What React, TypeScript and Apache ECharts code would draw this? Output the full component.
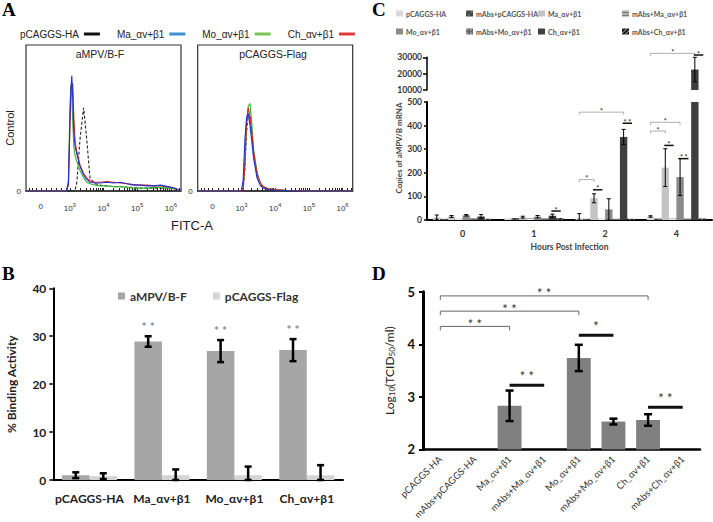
import React, { useEffect, useRef } from 'react';
import * as echarts from 'echarts';

const SANS = 'Liberation Sans';
const CAL = 'Lato';

// ---------------- Panel A : flow cytometry histograms ----------------
const A_NAMES = ['pCAGGS-HA', 'Ma_αv+β1', 'Mo_αv+β1', 'Ch_αv+β1'];
const A_LINE_COLORS = ['#2b2020', '#2430d0', '#35b835', '#d82828'];
const A_LEGEND_COLORS = ['#111111', '#3d8fd6', '#7cc35a', '#e03a3a'];
const A_TICK_VALUES = [2.14, 3, 4, 5, 6];
const A_TICK_LABELS = ['0', '10{s|3}', '10{s|4}', '10{s|5}', '10{s|6}'];

const AL_X = [1.7, 2.9, 2.96, 3.0, 3.03, 3.06, 3.09, 3.12, 3.16, 3.21, 3.3, 3.41, 3.5, 3.6, 3.75, 3.9, 4.1, 4.3, 4.5, 4.7, 4.9, 5.1, 5.3, 5.5, 5.7, 5.9, 6.1, 6.3];
const AL_HA = [0, 0, 0, 0, 0, 0, 0, 0, 1, 6, 35, 57, 36, 9, 5, 4, 3.5, 3, 3, 2.5, 2.5, 2, 2, 2, 2, 2, 1.5, 0];
const AL_MA = [0, 0, 5, 45, 70, 79, 62, 40, 30, 25, 17, 11, 8, 6, 5.5, 5.5, 6, 5.5, 6, 5, 4, 4, 3.5, 3.5, 4, 3, 2, 0];
const AL_MO = [0, 0, 8, 55, 72, 65, 45, 30, 24, 20, 14, 9, 6, 5, 4, 3.5, 3.5, 3, 3, 2.5, 2, 2, 2, 2.5, 2.5, 2, 1.5, 0];
const AL_CH = [0, 0, 4, 40, 65, 74, 73, 50, 33, 27, 18, 12, 9, 7, 6, 6, 6.5, 6, 5.5, 5, 4.5, 4, 4, 3.5, 3.5, 3, 2, 0];

const AR_X = [1.7, 3.0, 3.05, 3.1, 3.15, 3.2, 3.25, 3.3, 3.36, 3.46, 3.55, 3.64, 3.8, 4.0, 4.3, 4.6, 5.0, 6.3];
const AR_HA = [0, 0, 1, 15, 40, 53, 50, 40, 26, 12, 5, 2.5, 1, 0.5, 0.2, 0, 0, 0];
const AR_MA = [0, 0, 8, 35, 50, 53, 45, 35, 22, 9, 4, 2, 1, 0.5, 0.3, 0, 0, 0];
const AR_MO = [0, 0, 3, 20, 45, 58, 60, 48, 28, 13, 6, 3, 1.5, 1, 0.5, 0.3, 0, 0];
const AR_CH = [0, 0, 2, 18, 48, 57, 52, 42, 27, 12, 6, 3, 1.5, 1, 0.5, 0.3, 0, 0];

// ---------------- Panel B : binding activity ----------------
const B_CATS = ['pCAGGS-HA', 'Ma_αv+β1', 'Mo_αv+β1', 'Ch_αv+β1'];
const B_SERIES = ['aMPV/B-F', 'pCAGGS-Flag'];
const B_F = [1.0, 28.9, 26.9, 27.1];
const B_F_ERR = [0.6, 1.1, 2.3, 2.3];
const B_FLAG = [0.8, 1.0, 1.0, 1.0];
const B_FLAG_ERR = [0.6, 1.2, 1.8, 2.1];
const B_SIG = ['', '* *', '* *', '* *'];

// ---------------- Panel C : mRNA copies ----------------
const C_CATS = ['0', '1', '2', '4'];
const C_NAMES = ['pCAGGS-HA', 'mAbs+pCAGGS-HA', 'Ma_αv+β1', 'mAbs+Ma_αv+β1', 'Mo_αv+β1', 'mAbs+Mo_αv+β1', 'Ch_αv+β1', 'mAbs+Ch_αv+β1'];
const C_HA = [12, 7, 8, 15];
const C_HA_ERR = [9, 0, 19, 3];
const C_MHA = [5, 8, 5, 6];
const C_MA = [15, 12, 92, 222];
const C_MA_ERR = [4, 4, 19, 80];
const C_MMA = [5, 7, 5, 6];
const C_MO = [20, 14, 45, 182];
const C_MO_ERR = [3, 5, 45, 78];
const C_MMO = [7, 7, 5, 6];
const C_CH = [15, 18, 352, 22500];
const C_CH_ERR = [8, 7, 32, 7500];
const C_MCH = [5, 8, 5, 6];
// [cat1, bar1, cat2, bar2, value, kind(0 bracket / 1 bar), label]
const C_SIG_LOW = [
  [2, 0, 2, 2, 171, 0, '*'],
  [2, 0, 2, 6, 457, 0, '*'],
  [3, 0, 3, 2, 377, 0, '*'],
  [3, 0, 3, 4, 414, 0, '*'],
  [1, 6, 1, 7, 38, 1, '*'],
  [2, 2, 2, 3, 128, 1, '*'],
  [2, 6, 2, 7, 410, 1, '* *'],
  [3, 2, 3, 3, 316, 1, '*'],
  [3, 4, 3, 5, 260, 1, '* *'],
];
const C_SIG_UP = [
  [3, 0, 3, 6, 32400, 0, '*'],
  [3, 6, 3, 7, 31400, 1, '*'],
];

// ---------------- Panel D : virus titres ----------------
const D_CATS = ['pCAGGS-HA', 'mAbs+pCAGGS-HA', 'Ma_αv+β1', 'mAbs+Ma_αv+β1', 'Mo_αv+β1', 'mAbs+Mo_αv+β1', 'Ch_αv+β1', 'mAbs+Ch_αv+β1'];
const D_VALUES = [null, null, 2.83, null, 3.74, 2.53, 2.56, null];
const D_ERR = [null, null, 0.29, null, 0.25, 0.055, 0.11, null];
const D_SIG = [
  [0, 0, 6, 0, 4.92, 0, '* *'],
  [0, 0, 4, 0, 4.63, 0, '* *'],
  [0, 0, 2, 0, 4.34, 0, '* *'],
  [4, 0, 5, 0, 4.17, 1, '*'],
  [2, 0, 3, 0, 3.22, 1, '* *'],
  [6, 0, 7, 0, 2.8, 1, '* *'],
];

function barX(api: any, cat: number, k: number, n: number, gap: number) {
  const band = api.size([1, 0])[0];
  const c = api.coord([cat, 0])[0];
  const w = band * (1 - gap);
  return c - w / 2 + (w / n) * (k + 0.5);
}

function errSeries(xi: number, yi: number, rows: number[][], n: number, gap: number, cap: number, lw: number, color: string, labels?: string[], lab?: any) {
  return {
    type: 'custom', xAxisIndex: xi, yAxisIndex: yi, clip: false, silent: true, z: 10,
    data: rows,
    encode: { x: 0, y: [2, 3] },
    renderItem: (params: any, api: any) => {
      const cat = api.value(0);
      const x = barX(api, cat, api.value(1), n, gap);
      const yl = api.coord([cat, api.value(2)])[1];
      const yh = api.coord([cat, api.value(3)])[1];
      const st = { stroke: color, lineWidth: lw };
      const children: any[] = [
        { type: 'line', shape: { x1: x, y1: yl, x2: x, y2: yh }, style: st },
        { type: 'line', shape: { x1: x - cap, y1: yh, x2: x + cap, y2: yh }, style: st },
        { type: 'line', shape: { x1: x - cap, y1: yl, x2: x + cap, y2: yl }, style: st },
      ];
      const t = labels && labels[params.dataIndex];
      if (t) {
        children.push({
          type: 'text',
          style: { text: t, x, y: yh - lab.gap, textAlign: 'center', align: 'center', textVerticalAlign: 'middle', verticalAlign: 'middle', fontFamily: CAL, fontSize: lab.size, fontWeight: 'bold', fill: lab.color },
        });
      }
      return { type: 'group', children };
    },
  };
}

function sigSeries(xi: number, yi: number, rows: any[][], n: number, gap: number, st: any) {
  return {
    type: 'custom', xAxisIndex: xi, yAxisIndex: yi, clip: false, silent: true, z: 12,
    data: rows.map((r) => r.slice(0, 6)),
    encode: { x: [0, 2], y: 4 },
    renderItem: (params: any, api: any) => {
      const r = rows[params.dataIndex];
      const x1 = barX(api, api.value(0), api.value(1), n, gap);
      const x2 = barX(api, api.value(2), api.value(3), n, gap);
      const y = api.coord([api.value(0), api.value(4)])[1];
      const thin = api.value(5) === 0;
      const line = thin
        ? { type: 'polyline', shape: { points: [[x1, y + st.drop], [x1, y], [x2, y], [x2, y + st.drop]] }, style: { stroke: st.thinColor, lineWidth: st.thinWidth, fill: 'none' } }
        : { type: 'line', shape: { x1: x1 - st.ext, y1: y, x2: x2 + st.ext, y2: y }, style: { stroke: st.thickColor, lineWidth: st.thickWidth } };
      const text = {
        type: 'text',
        style: { text: r[6], x: (x1 + x2) / 2, y: y - (thin ? st.thinGap : st.thickGap), textAlign: 'center', align: 'center', textVerticalAlign: 'middle', verticalAlign: 'middle', fontFamily: CAL, fontSize: st.size, fontWeight: st.weight, fill: st.textColor },
      };
      return { type: 'group', children: [line, text] };
    },
  };
}

function buildOption() {
  // ---- A ----
  const aTicks: number[] = [1.8, 1.9, 2.0, 2.14, 2.3, 2.45, 2.6, 2.75, 2.9];
  [3, 4, 5].forEach((d) => { for (let k = 1; k <= 9; k++) aTicks.push(d + Math.log10(k)); });
  aTicks.push(6, 6.15, 6.25);
  const aX = (gi: number) => ({
    type: 'value', gridIndex: gi, min: 1.7, max: 6.3,
    axisLine: { show: true, lineStyle: { color: '#222', width: 1.5 } },
    axisTick: { show: true, inside: true, length: 3, customValues: aTicks, lineStyle: { color: '#222', width: 1 } },
    axisLabel: {
      customValues: A_TICK_VALUES, margin: 11, color: '#333', fontFamily: SANS, fontSize: 8,
      formatter: (v: number) => { const i = A_TICK_VALUES.findIndex((t) => Math.abs(t - v) < 1e-6); return i >= 0 ? A_TICK_LABELS[i] : ''; },
      rich: { s: { fontFamily: SANS, fontSize: 6, color: '#333', padding: [0, 0, 6, 0] } },
    },
    splitLine: { show: false },
  });
  const aY = (gi: number) => ({
    type: 'value', gridIndex: gi, min: 0, max: 100, interval: 100,
    axisLine: { show: false }, axisTick: { show: false }, splitLine: { show: false },
    axisLabel: { formatter: (v: number) => (v === 0 ? '0' : ''), fontFamily: SANS, fontSize: 8, margin: 5, color: '#333' },
  });
  const aData = [
    [AL_X, [AL_HA, AL_MA, AL_MO, AL_CH]],
    [AR_X, [AR_HA, AR_MA, AR_MO, AR_CH]],
  ] as any[];
  const aSeries: any[] = [];
  const drawOrder = [0, 2, 3, 1];
  aData.forEach(([xs, ys]: any, p: number) => {
    drawOrder.forEach((i) => {
      aSeries.push({
        type: 'line', name: A_NAMES[i], xAxisIndex: p, yAxisIndex: p, symbol: 'none', showSymbol: false,
        data: xs.map((x: number, j: number) => [x, ys[i][j]]),
        lineStyle: { width: 1.1, color: A_LINE_COLORS[i], type: i === 0 ? [3, 2] : 'solid' },
        itemStyle: { color: A_LINE_COLORS[i] }, z: 3 + drawOrder.indexOf(i),
      });
    });
  });

  // ---- B ----
  const bRows: number[][] = [];
  const bLabels: string[] = [];
  B_F.forEach((v, i) => { bRows.push([i, 0, Math.max(0, v - B_F_ERR[i]), v + B_F_ERR[i]]); bLabels.push(B_SIG[i]); });
  B_FLAG.forEach((v, i) => { bRows.push([i, 1, Math.max(0, v - B_FLAG_ERR[i]), v + B_FLAG_ERR[i]]); bLabels.push(''); });

  // ---- C ----
  const cVals = [C_HA, C_MHA, C_MA, C_MMA, C_MO, C_MMO, C_CH, C_MCH];
  const cErrs = [C_HA_ERR, null, C_MA_ERR, null, C_MO_ERR, null, C_CH_ERR, null];
  const cColors = ['#d9d9d9', '#444444', '#c4c4c4', '#7a7a7a', '#8a8a8a', '#6a6a6a', '#3f3f3f', '#111111'];
  const cDecals: any[] = [
    null,
    { color: 'rgba(255,255,255,0.8)', symbol: 'rect', symbolSize: 0.6, dashArrayX: [2, 2], dashArrayY: [2, 2], rotation: Math.PI / 4 },
    null,
    { color: 'rgba(255,255,255,0.85)', symbol: 'rect', symbolSize: 1, dashArrayX: [1, 0], dashArrayY: [1, 1.5], rotation: 0 },
    null,
    { color: 'rgba(255,255,255,0.85)', symbol: 'circle', symbolSize: 0.7, dashArrayX: [2, 2], dashArrayY: [2, 2], rotation: 0 },
    null,
    { color: 'rgba(255,255,255,0.6)', symbol: 'rect', symbolSize: 1, dashArrayX: [1, 0], dashArrayY: [1, 2], rotation: -Math.PI / 4 },
  ];
  const C_GAP = 0.17;
  const cBars = (xi: number, yi: number) => cVals.map((vals, k) => ({
    type: 'bar', name: 'C:' + C_NAMES[k], xAxisIndex: xi, yAxisIndex: yi, data: vals, clip: true,
    barGap: '0%', barCategoryGap: '17%', silent: true,
    itemStyle: cDecals[k] ? { color: cColors[k], decal: cDecals[k] } : { color: cColors[k] },
  }));
  const cLow: number[][] = [];
  const cUp: number[][] = [];
  cVals.forEach((vals, k) => {
    const e = cErrs[k];
    if (!e) return;
    vals.forEach((v, i) => {
      if (!e[i]) return;
      const row = [i, k, Math.max(0, v - e[i]), Math.min(30000, v + e[i])];
      if (row[3] <= 500) cLow.push(row);
      else if (row[3] > 10000) cUp.push(row);
    });
  });
  const cSigStyle = { drop: 2.5, thinColor: '#999', thinWidth: 0.8, thickColor: '#111', thickWidth: 1.5, ext: 1, thinGap: 1.5, thickGap: 1.5, size: 7, weight: 'bold', textColor: '#333' };
  const cLegendPos = [[396, 10], [466, 10], [538, 10], [622, 10], [396, 28], [466, 28], [538, 28], [622, 28]];
  const cLegends = C_NAMES.map((n, k) => ({
    data: [{ name: 'C:' + n, itemStyle: { color: cColors[k] } }],
    left: cLegendPos[k][0], top: cLegendPos[k][1], padding: 0, itemGap: 0,
    icon: 'rect', itemWidth: 7, itemHeight: 6, selectedMode: false,
    formatter: (name: string) => name.replace(/^C:/, ''),
    textStyle: { fontFamily: CAL, fontWeight: 'bold', fontSize: 7, color: '#555', padding: [0, 0, 0, -2] },
  }));
  const plain = (v: number) => String(v);

  // ---- D ----
  const dRows: number[][] = [];
  D_VALUES.forEach((v, i) => { const e = D_ERR[i]; if (v != null && e != null) dRows.push([i, 0, v - e, v + e]); });
  const dSigStyle = { drop: 4, thinColor: '#666', thinWidth: 1, thickColor: '#111', thickWidth: 3, ext: 0, thinGap: 2.5, thickGap: 9, size: 13, weight: 'normal', textColor: '#333' };

  const bAxisFont = { fontFamily: CAL, fontWeight: 'bold', fontSize: 12, color: '#222' };

  const textEl = (text: string, x: number, y: number, font: any, extra: any = {}) => ({
    type: 'text', x, y, rotation: extra.rotation || 0, silent: true,
    style: {
      text, x: 0, y: 0, fill: font.color || '#000', fontFamily: font.fontFamily, fontSize: font.fontSize, fontWeight: font.fontWeight || 'normal',
      textAlign: extra.align || 'center', align: extra.align || 'center', textVerticalAlign: extra.valign || 'middle', verticalAlign: extra.valign || 'middle',
    },
  });
  const letterFont = { fontFamily: 'Liberation Serif', fontWeight: 'bold', fontSize: 19, color: '#000' };

  return {
    animation: false,
    backgroundColor: '#ffffff',
    textStyle: { fontFamily: SANS },
    graphic: [
      textEl('A', 2, 0, letterFont, { align: 'left', valign: 'top' }),
      textEl('B', 2, 264, letterFont, { align: 'left', valign: 'top' }),
      textEl('C', 372, 0, letterFont, { align: 'left', valign: 'top' }),
      textEl('D', 372, 264, letterFont, { align: 'left', valign: 'top' }),
      textEl('aMPV/B-F', 100, 54, { fontFamily: SANS, fontSize: 10.5, color: '#222' }),
      textEl('pCAGGS-Flag', 273, 54, { fontFamily: SANS, fontSize: 10.5, color: '#222' }),
      textEl('FITC-A', 192, 225, { fontFamily: SANS, fontSize: 13, color: '#222' }),
      textEl('Control', 10, 128, { fontFamily: SANS, fontSize: 11, color: '#222' }, { rotation: Math.PI / 2 }),
      textEl('Copies of aMPV/B mRNA', 398.5, 148, { fontFamily: CAL, fontWeight: 'bold', fontSize: 8, color: '#444' }, { rotation: Math.PI / 2 }),
    ],
    legend: [
      {
        data: A_NAMES.map((n, i) => ({ name: n, itemStyle: { color: A_LEGEND_COLORS[i] }, lineStyle: { color: A_LEGEND_COLORS[i], width: 2.5, type: 'solid' } })),
        left: 20, top: 29, padding: 0, itemGap: 17, itemWidth: 16, itemHeight: 3, align: 'right', selectedMode: false,
        icon: 'rect',
        textStyle: { fontFamily: SANS, fontSize: 10, color: '#222' },
      },
      {
        data: B_SERIES, left: 118, top: 290, padding: 0, itemGap: 26, icon: 'rect', itemWidth: 7, itemHeight: 7, selectedMode: false,
        textStyle: { fontFamily: CAL, fontWeight: 'bold', fontSize: 12, color: '#333' },
      },
      ...cLegends,
    ],
    grid: [
      { left: 26, top: 45, width: 155, height: 146, show: true, borderColor: '#333', borderWidth: 1.2, backgroundColor: '#fff' },
      { left: 197.7, top: 45, width: 155, height: 146, show: true, borderColor: '#333', borderWidth: 1.2, backgroundColor: '#fff' },
      { left: 53.3, top: 288.3, width: 289.7, height: 191.7 },
      { left: 427, top: 57.3, width: 285, height: 32.7 },
      { left: 427, top: 102, width: 285, height: 118 },
      { left: 423, top: 291.7, width: 277, height: 163.3 },
    ],
    xAxis: [
      aX(0),
      aX(1),
      {
        type: 'category', gridIndex: 2, data: B_CATS,
        axisLine: { lineStyle: { color: '#000', width: 2 } },
        axisTick: { length: 5, lineStyle: { color: '#000', width: 1.5 } },
        axisLabel: { ...bAxisFont, margin: 12, interval: 0 },
      },
      { type: 'category', gridIndex: 3, data: C_CATS, show: false },
      {
        type: 'category', gridIndex: 4, data: C_CATS,
        axisLine: { lineStyle: { color: '#000', width: 2 } },
        axisTick: { length: 3, lineStyle: { color: '#000', width: 1.5 } },
        axisLabel: { fontFamily: CAL, fontWeight: 'bold', fontSize: 9, color: '#333', margin: 9 },
        name: 'Hours Post Infection', nameLocation: 'middle', nameGap: 22,
        nameTextStyle: { fontFamily: CAL, fontWeight: 'bold', fontSize: 8.5, color: '#444' },
      },
      {
        type: 'category', gridIndex: 5, data: D_CATS,
        axisLine: { lineStyle: { color: '#000', width: 2.5 } },
        axisTick: { length: 4, lineStyle: { color: '#000', width: 2 } },
        axisLabel: { fontFamily: CAL, fontSize: 9.5, color: '#333', rotate: 45, margin: 8, interval: 0 },
      },
    ],
    yAxis: [
      aY(0),
      aY(1),
      {
        type: 'value', gridIndex: 2, min: 0, max: 40, interval: 10,
        axisLine: { show: true, lineStyle: { color: '#000', width: 2 } },
        axisTick: { show: true, length: 4, lineStyle: { color: '#000', width: 1.5 } },
        axisLabel: { ...bAxisFont, margin: 7 },
        splitLine: { show: false },
        name: '% Binding Activity', nameLocation: 'middle', nameRotate: 90, nameGap: 36,
        nameTextStyle: { fontFamily: CAL, fontWeight: 'bold', fontSize: 12, color: '#222' },
      },
      {
        type: 'value', gridIndex: 3, min: 10000, max: 30000, interval: 10000,
        axisLine: { show: true, lineStyle: { color: '#000', width: 1.5 } },
        axisTick: { show: true, length: 4, lineStyle: { color: '#000', width: 1.5 } },
        axisLabel: { fontFamily: CAL, fontWeight: 'bold', fontSize: 8.5, color: '#333', margin: 5, formatter: plain },
        splitLine: { show: false },
      },
      {
        type: 'value', gridIndex: 4, min: 0, max: 500, interval: 100,
        axisLine: { show: true, lineStyle: { color: '#000', width: 2 } },
        axisTick: { show: true, length: 3, lineStyle: { color: '#000', width: 1.5 } },
        axisLabel: { fontFamily: CAL, fontWeight: 'bold', fontSize: 8.5, color: '#333', margin: 5, formatter: plain },
        splitLine: { show: false },
      },
      {
        type: 'value', gridIndex: 5, min: 2, max: 5, interval: 1,
        axisLine: { show: true, lineStyle: { color: '#000', width: 3 } },
        axisTick: { show: true, length: 4, lineStyle: { color: '#000', width: 2 } },
        axisLabel: { fontFamily: CAL, fontWeight: 'bold', fontSize: 13, color: '#111', margin: 8 },
        splitLine: { show: false },
        name: 'Log{sub|10}(TCID{sub|50}/ml)', nameLocation: 'middle', nameRotate: 90, nameGap: 27,
        nameTextStyle: {
          fontFamily: CAL, fontSize: 12, color: '#222',
          rich: { sub: { fontFamily: CAL, fontSize: 8, color: '#222', padding: [6, 0, 0, 0] } },
        },
      },
    ],
    series: [
      ...aSeries,
      { type: 'bar', name: B_SERIES[0], xAxisIndex: 2, yAxisIndex: 2, data: B_F, barGap: '0%', barCategoryGap: '24%', itemStyle: { color: '#a6a6a6' }, silent: true },
      { type: 'bar', name: B_SERIES[1], xAxisIndex: 2, yAxisIndex: 2, data: B_FLAG, barGap: '0%', barCategoryGap: '24%', itemStyle: { color: '#d4d4d4' }, silent: true },
      errSeries(2, 2, bRows, 2, 0.24, 3.5, 2.5, '#000', bLabels, { gap: 10, size: 12, color: '#8a8a8a' }),
      ...cBars(3, 3),
      ...cBars(4, 4),
      errSeries(3, 3, cUp, 8, C_GAP, 2, 1, '#000'),
      errSeries(4, 4, cLow, 8, C_GAP, 2, 1, '#000'),
      sigSeries(3, 3, C_SIG_UP, 8, C_GAP, cSigStyle),
      sigSeries(4, 4, C_SIG_LOW, 8, C_GAP, cSigStyle),
      { type: 'bar', name: 'D', xAxisIndex: 5, yAxisIndex: 5, data: D_VALUES, clip: true, barCategoryGap: '31%', itemStyle: { color: '#808080' }, silent: true },
      errSeries(5, 5, dRows, 1, 0.31, 4, 2.5, '#000'),
      sigSeries(5, 5, D_SIG, 1, 0.31, dSigStyle),
    ],
  };
}

export default function App() {
  const ref = useRef<HTMLDivElement>(null);
  useEffect(() => {
    const chart = echarts.init(ref.current as HTMLDivElement, null, { renderer: 'svg' });
    chart.setOption(buildOption() as any);
    return () => chart.dispose();
  }, []);
  return <div ref={ref} style={{ position: 'fixed', left: 0, top: 0, width: 713, height: 522, background: '#fff' }} />;
}
